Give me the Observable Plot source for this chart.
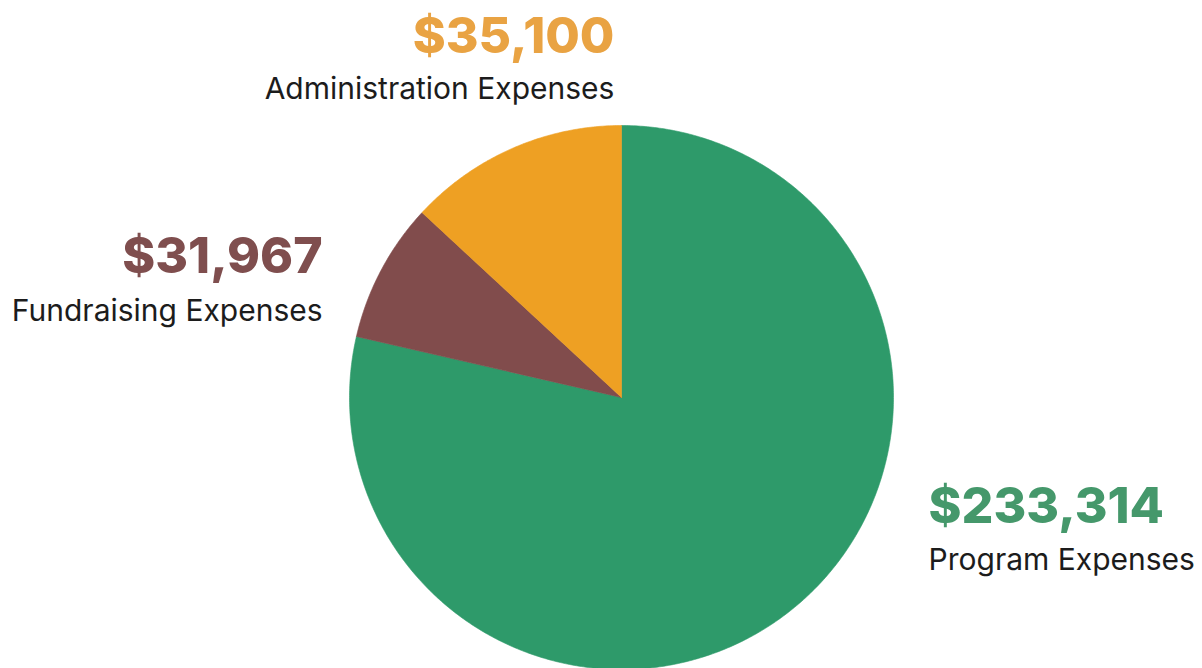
<!DOCTYPE html>
<html>
<head>
<meta charset="utf-8">
<script src="https://cdn.jsdelivr.net/npm/d3@7"></script>
<script src="https://cdn.jsdelivr.net/npm/@observablehq/plot@0.6"></script>
<style>
  html, body { margin: 0; padding: 0; background: #ffffff; }
  #chart svg { display: block; }
</style>
</head>
<body>
<div id="chart"></div>
<script>
// ---- data ----
const categories = ["Program Expenses", "Fundraising Expenses", "Administration Expenses"];
const amounts = [233314, 31967, 35100];
// slice shares (%) as drawn in the picture
const shares = [78.6, 8.3, 13.1];
const sliceColors = ["#2E9A6A", "#814C4C", "#EEA023"];
const valueColors = ["#45986B", "#7F4E4E", "#E9A343"];

// ---- layout (in pie-radius units, centre at 0,0) ----
const labelLayout = [
  {x: 1.129, yValue: -0.463, yName: -0.636, anchor: "start"},
  {x: -1.099, yValue: 0.456, yName: 0.283, anchor: "end"},
  {x: -0.026, yValue: 1.265, yName: 1.099, anchor: "end"}
];

const W = 1202, H = 668, R = 272, CX = 621, CY = 397;

// build slice outlines from the pie layout
const arcs = d3.pie().sort(null).value(d => d)(shares);
const slicePts = [];
arcs.forEach((a, i) => {
  const name = categories[i];
  slicePts.push({name, x: 0, y: 0});
  const n = Math.max(2, Math.ceil((a.endAngle - a.startAngle) / (Math.PI / 360)));
  for (let k = 0; k <= n; k++) {
    const t = a.startAngle + (a.endAngle - a.startAngle) * k / n;
    slicePts.push({name, x: Math.sin(t), y: Math.cos(t)});
  }
  slicePts.push({name, x: 0, y: 0});
});

const fmt = d3.format("$,");
const font = "Inter, 'Open Sans', sans-serif";

const textMarks = categories.flatMap((c, i) => {
  const L = labelLayout[i];
  return [
    Plot.text([{x: L.x, y: L.yValue, t: fmt(amounts[i])}], {
      x: "x", y: "y", text: "t", textAnchor: L.anchor, lineAnchor: "bottom",
      fill: valueColors[i], fontSize: 50, fontWeight: 800, fontFamily: font
    }),
    Plot.text([{x: L.x, y: L.yName, t: c}], {
      x: "x", y: "y", text: "t", textAnchor: L.anchor, lineAnchor: "bottom",
      fill: "#1c1c1c", fontSize: 30, fontWeight: 400, fontFamily: font
    })
  ];
});

const chart = Plot.plot({
  width: W,
  height: H,
  margin: 0,
  style: {background: "#ffffff", overflow: "visible"},
  x: {domain: [-CX / R, (W - CX) / R], axis: null},
  y: {domain: [-(H - CY) / R, CY / R], axis: null},
  color: {domain: categories, range: sliceColors},
  marks: [
    Plot.line(slicePts, {x: "x", y: "y", z: "name", fill: "name", stroke: "name", strokeWidth: 0.6, curve: "linear"}),
    ...textMarks
  ]
});
document.getElementById("chart").appendChild(chart);
</script>
</body>
</html>
